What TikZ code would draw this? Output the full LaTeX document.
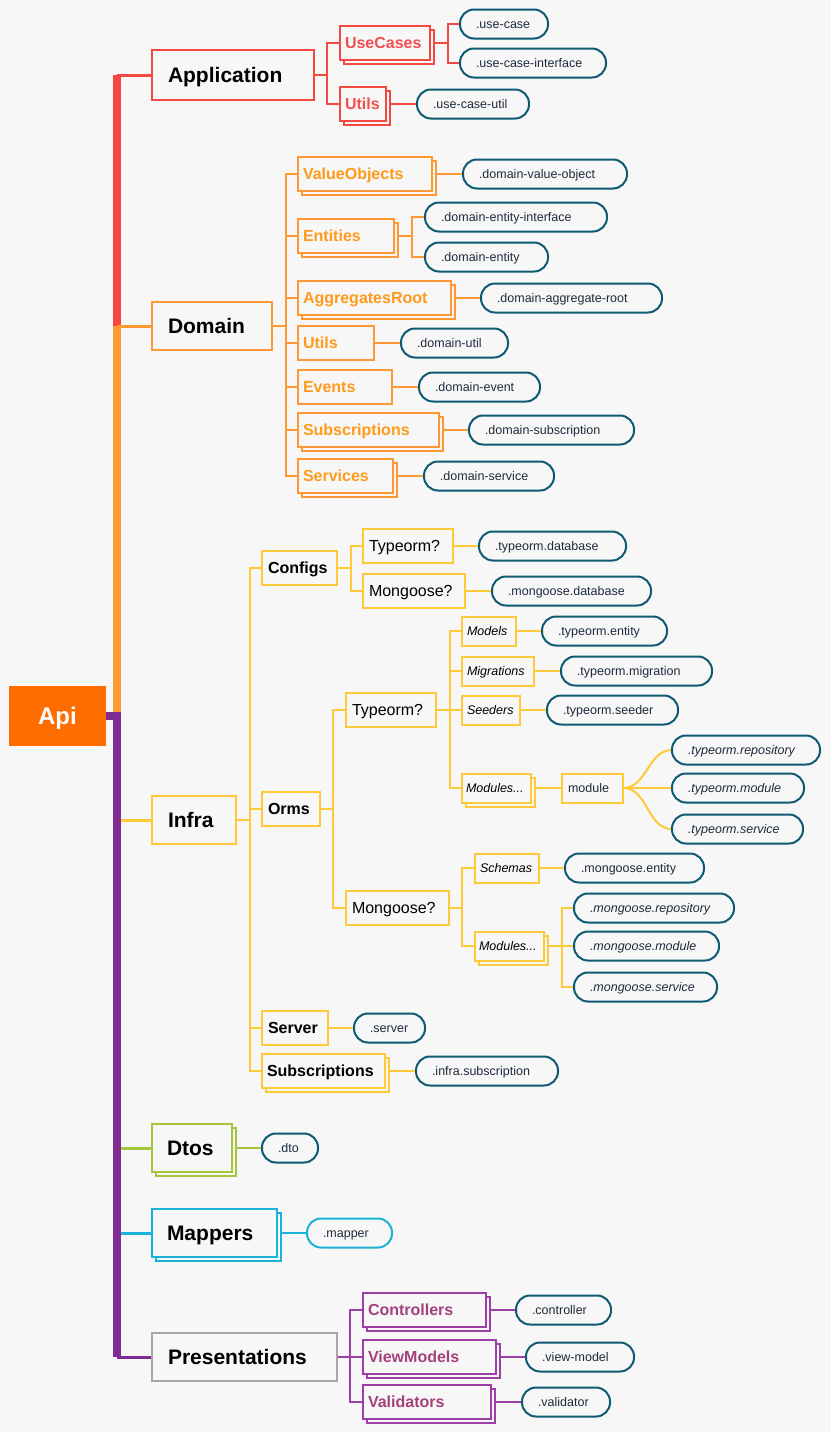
\documentclass[tikz,border=0pt]{standalone}
\usepackage{fontspec}
\setmainfont{Liberation Sans}
\usetikzlibrary{shadows}

\definecolor{paper}{HTML}{F7F7F7}
\definecolor{apiorange}{HTML}{FF6D00}
\definecolor{appred}{HTML}{F44840}
\definecolor{apptext}{HTML}{F25050}
\definecolor{domorange}{HTML}{FF9933}
\definecolor{domtext}{HTML}{FF9A1A}
\definecolor{infrayellow}{HTML}{FFCA3A}
\definecolor{dtogreen}{HTML}{A5C63B}
\definecolor{mapcyan}{HTML}{1AB2D6}
\definecolor{prespurple}{HTML}{802B91}
\definecolor{presline}{HTML}{9E3FA8}
\definecolor{prestext}{HTML}{A3417D}
\definecolor{presgray}{HTML}{A6A6A6}
\definecolor{filerim}{HTML}{0F5A73}
\definecolor{fileink}{HTML}{1E2B3B}

\pgfdeclarelayer{back}
\pgfdeclarelayer{wires}
\pgfsetlayers{back,wires,main}

\hyphenpenalty=10000
\exhyphenpenalty=10000

\tikzset{
  box/.style={draw, line width=2pt, fill=paper, anchor=north west, align=left, inner ysep=2pt, outer sep=0pt, text depth=0pt},
  topbox/.style={box, inner xsep=16pt, text height=15pt, font=\fontsize{21}{25}\selectfont\bfseries},
  subbox/.style={box, inner xsep=5pt, text height=11.5pt, minimum height=34pt, font=\fontsize{16}{19}\selectfont\bfseries},
  plainbox/.style={box, inner xsep=6pt, text height=11.5pt, minimum height=34pt, font=\fontsize{16}{19}\selectfont},
  tinybox/.style={box, inner xsep=5pt, text height=9pt, minimum height=29pt, font=\fontsize{12.5}{15}\selectfont\itshape},
  file/.style={box, draw=filerim, rounded corners=14pt, inner xsep=16pt, text height=9pt, minimum height=29pt, text=fileink, font=\fontsize{12.5}{15}\selectfont},
  ifile/.style={file, font=\fontsize{12.5}{15}\selectfont\itshape},
  stacked/.style={copy shadow={shadow xshift=4pt, shadow yshift=-4pt, draw=#1, fill=paper, line width=2pt}},
  wire/.style={line width=2pt},
  trunk/.style={line width=8pt},
  branch/.style={line width=3pt},
}

\begin{document}
\begin{tikzpicture}[x=1pt,y=-1pt]
	%%%%% START %%%%%
	\begin{pgfonlayer}{back}
		\fill[paper] (0,0) rectangle (831,1432);
	\end{pgfonlayer}
	
	\node[anchor=north west, outer sep=0pt, fill=apiorange, text=white, minimum width=97pt, minimum height=60pt, text height=17.3pt, text depth=0pt, font=\fontsize{24}{28}\selectfont\bfseries] (api) at (9,686) {Api};
	
	% application
	\node[topbox, draw=appred, minimum height=50pt, text width=130pt] (app) at (152,50) {Application};
	\node[subbox, draw=appred, text=apptext, stacked=appred, text width=80pt] (usecases) at (340,26) {UseCases};
	\node[subbox, draw=appred, text=apptext, stacked=appred, text width=36pt] (apputils) at (340,87) {Utils};
	\node[file, text width=56pt] (fusecase) at (460,9.5) {.use-case};
	\node[file, text width=114pt] (fusecaseiface) at (460,48.5) {.use-case-interface};
	\node[file, text width=80pt] (fusecaseutil) at (417,89.5) {.use-case-util};
	
	% domain
	\node[topbox, draw=domorange, minimum height=48pt, text width=88pt] (dom) at (152,302) {Domain};
	\node[subbox, draw=domorange, text=domtext, stacked=domorange, text width=124pt] (valueobjects) at (298,157) {ValueObjects};
	\node[subbox, draw=domorange, text=domtext, stacked=domorange, text width=86pt] (entities) at (298,219) {Entities};
	\node[subbox, draw=domorange, text=domtext, stacked=domorange, text width=143pt] (aggregates) at (298,281) {AggregatesRoot};
	\node[subbox, draw=domorange, text=domtext, text width=66pt] (domutils) at (298,326) {Utils};
	\node[subbox, draw=domorange, text=domtext, text width=84pt] (events) at (298,370) {Events};
	\node[subbox, draw=domorange, text=domtext, stacked=domorange, text width=131pt] (domsubs) at (298,413) {Subscriptions};
	\node[subbox, draw=domorange, text=domtext, stacked=domorange, text width=85pt] (services) at (298,459) {Services};
	\node[file, text width=132pt] (fvalueobject) at (463,159.5) {.domain-value-object};
	\node[file, text width=150pt] (fentityiface) at (425,202.5) {.domain-entity-interface};
	\node[file, text width=91pt] (fentity) at (425,242.5) {.domain-entity};
	\node[file, text width=149pt] (faggregate) at (481,283.5) {.domain-aggregate-root};
	\node[file, text width=75pt] (fdomutil) at (401,328.5) {.domain-util};
	\node[file, text width=89pt] (fevent) at (419,372.5) {.domain-event};
	\node[file, text width=133pt] (fdomsub) at (469,415.5) {.domain-subscription};
	\node[file, text width=98pt] (fservice) at (424,461.5) {.domain-service};
	
	% infra
	\node[topbox, draw=infrayellow, minimum height=48pt, text width=52pt] (infra) at (152,796) {Infra};
	\node[subbox, draw=infrayellow, inner xsep=6pt, text width=63pt] (configs) at (262,551) {Configs};
	\node[plainbox, draw=infrayellow, text width=78pt] (cfgtypeorm) at (363,529) {Typeorm?};
	\node[plainbox, draw=infrayellow, text width=90pt] (cfgmongoose) at (363,574) {Mongoose?};
	\node[file, text width=115pt] (ftdb) at (479,531.5) {.typeorm.database};
	\node[file, text width=127pt] (fmdb) at (492,576.5) {.mongoose.database};
	
	\node[subbox, draw=infrayellow, inner xsep=6pt, text width=46pt] (orms) at (262,792) {Orms};
	\node[plainbox, draw=infrayellow, text width=78pt] (ormtypeorm) at (346,693) {Typeorm?};
	\node[tinybox, draw=infrayellow, text width=44pt] (models) at (462,616.5) {Models};
	\node[tinybox, draw=infrayellow, text width=62pt] (migrations) at (462,656.5) {Migrations};
	\node[tinybox, draw=infrayellow, text width=48pt] (seeders) at (462,695.5) {Seeders};
	\node[tinybox, draw=infrayellow, stacked=infrayellow, inner xsep=4pt, text width=61pt] (tmodules) at (462,773.5) {Modules...};
	\node[tinybox, draw=infrayellow, font=\fontsize{12.5}{15}\selectfont, text=fileink, inner xsep=6pt, text width=49pt] (module) at (562,773.5) {module};
	\node[file, text width=93pt] (ftentity) at (542,616.5) {.typeorm.entity};
	\node[file, text width=119pt] (ftmigration) at (561,656.5) {.typeorm.migration};
	\node[file, text width=99pt] (ftseeder) at (547,695.5) {.typeorm.seeder};
	\node[ifile, text width=116pt] (ftrepo) at (672,735.5) {.typeorm.repository};
	\node[ifile, text width=100pt] (ftmodule) at (672,773.5) {.typeorm.module};
	\node[ifile, text width=99pt] (ftservice) at (672,814.5) {.typeorm.service};
	
	\node[plainbox, draw=infrayellow, text width=91pt] (ormmongoose) at (346,891) {Mongoose?};
	\node[tinybox, draw=infrayellow, text width=54pt] (schemas) at (475,853.5) {Schemas};
	\node[tinybox, draw=infrayellow, stacked=infrayellow, inner xsep=4pt, text width=61pt] (mmodules) at (475,931.5) {Modules...};
	\node[file, text width=107pt] (fmentity) at (565,853.5) {.mongoose.entity};
	\node[ifile, text width=128pt] (fmrepo) at (574,893.5) {.mongoose.repository};
	\node[ifile, text width=113pt] (fmmodule) at (574,931.5) {.mongoose.module};
	\node[ifile, text width=111pt] (fmservice) at (574,972.5) {.mongoose.service};
	
	\node[subbox, draw=infrayellow, inner xsep=6pt, text width=54pt] (server) at (262,1011) {Server};
	\node[subbox, draw=infrayellow, stacked=infrayellow, text width=113pt] (infrasubs) at (262,1054) {Subscriptions};
	\node[file, text width=39pt] (fserver) at (354,1013.5) {.server};
	\node[file, text width=110pt] (finfrasub) at (416,1056.5) {.infra.subscription};
	
	% dtos, mappers
	\node[topbox, draw=dtogreen, stacked=dtogreen, inner xsep=15pt, minimum height=48pt, text width=50pt] (dtos) at (152,1124) {Dtos};
	\node[file, text width=24pt] (fdto) at (262,1133.5) {.dto};
	\node[topbox, draw=mapcyan, stacked=mapcyan, inner xsep=15pt, minimum height=48pt, text width=95pt] (mappers) at (152,1209) {Mappers};
	\node[file, draw=mapcyan, text width=53pt] (fmapper) at (307,1218.5) {.mapper};
	
	% presentations
	\node[topbox, draw=presgray, minimum height=48pt, text width=153pt] (pres) at (152,1333) {Presentations};
	\node[subbox, draw=presline, text=prestext, stacked=presline, text width=113pt] (controllers) at (363,1293) {Controllers};
	\node[subbox, draw=presline, text=prestext, stacked=presline, text width=123pt] (viewmodels) at (363,1340) {ViewModels};
	\node[subbox, draw=presline, text=prestext, stacked=presline, text width=118pt] (validators) at (363,1385) {Validators};
	\node[file, text width=63pt] (fcontroller) at (516,1295.5) {.controller};
	\node[file, text width=76pt] (fviewmodel) at (526,1342.5) {.view-model};
	\node[file, text width=56pt] (fvalidator) at (522,1387.5) {.validator};
	
	\begin{pgfonlayer}{wires}
		% trunk
		\coordinate (hub) at (117,716);
		\draw[trunk, appred] (api.east) -- (hub) -- (hub |- app.west);
		\draw[branch, appred] (hub |- app.west) -- (app.west);
		\draw[trunk, domorange] (hub) -- (hub |- dom.west);
		\draw[branch, domorange] (hub |- dom.west) -- (dom.west);
		\draw[trunk, infrayellow] (hub) -- (hub |- infra.west);
		\draw[branch, infrayellow] (hub |- infra.west) -- (infra.west);
		\draw[branch, dtogreen] (hub |- dtos.west) -- (dtos.west);
		\draw[branch, mapcyan] (hub |- mappers.west) -- (mappers.west);
		\draw[trunk, prespurple] (api.east) -- (hub) -- (hub |- pres.west);
		\draw[branch, prespurple] (hub |- pres.west) -- (pres.west);
		
		% application
		\coordinate (appfork) at (327,75);
		\coordinate (ucfork) at (448,43);
		\draw[wire, appred] (app.east) -- (appfork) |- (usecases.west) (appfork) |- (apputils.west);
		\draw[wire, appred] (usecases.east) -- (ucfork) |- (fusecase.west) (ucfork) |- (fusecaseiface.west);
		\draw[wire, appred] (apputils.east) -- (fusecaseutil.west);
		
		% domain
		\coordinate (domfork) at (286,326);
		\coordinate (entfork) at (412,236);
		\draw[wire, domorange] (dom.east) -- (domfork) |- (valueobjects.west) (domfork) |- (entities.west)
			(domfork) |- (aggregates.west) (domfork) |- (domutils.west) (domfork) |- (events.west)
			(domfork) |- (domsubs.west) (domfork) |- (services.west);
		\draw[wire, domorange] (valueobjects.east) -- (fvalueobject.west);
		\draw[wire, domorange] (entities.east) -- (entfork) |- (fentityiface.west) (entfork) |- (fentity.west);
		\draw[wire, domorange] (aggregates.east) -- (faggregate.west);
		\draw[wire, domorange] (domutils.east) -- (fdomutil.west);
		\draw[wire, domorange] (events.east) -- (fevent.west);
		\draw[wire, domorange] (domsubs.east) -- (fdomsub.west);
		\draw[wire, domorange] (services.east) -- (fservice.west);
		
		% infra
		\coordinate (infrafork) at (250,820);
		\coordinate (cfgfork) at (351,568);
		\coordinate (ormfork) at (333,809);
		\coordinate (tormfork) at (450,710);
		\coordinate (mormfork) at (462,908);
		\coordinate (mmodfork) at (562,946);
		\draw[wire, infrayellow] (infra.east) -- (infrafork) |- (configs.west) (infrafork) |- (orms.west)
			(infrafork) |- (server.west) (infrafork) |- (infrasubs.west);
		\draw[wire, infrayellow] (configs.east) -- (cfgfork) |- (cfgtypeorm.west) (cfgfork) |- (cfgmongoose.west);
		\draw[wire, infrayellow] (cfgtypeorm.east) -- (ftdb.west);
		\draw[wire, infrayellow] (cfgmongoose.east) -- (fmdb.west);
		\draw[wire, infrayellow] (orms.east) -- (ormfork) |- (ormtypeorm.west) (ormfork) |- (ormmongoose.west);
		\draw[wire, infrayellow] (ormtypeorm.east) -- (tormfork) |- (models.west) (tormfork) |- (migrations.west)
			(tormfork) |- (seeders.west) (tormfork) |- (tmodules.west);
		\draw[wire, infrayellow] (models.east) -- (ftentity.west);
		\draw[wire, infrayellow] (migrations.east) -- (ftmigration.west);
		\draw[wire, infrayellow] (seeders.east) -- (ftseeder.west);
		\draw[wire, infrayellow] (tmodules.east) -- (module.west);
		\draw[wire, infrayellow] (module.east) to[out=0, in=180] (ftrepo.west);
		\draw[wire, infrayellow] (module.east) -- (ftmodule.west);
		\draw[wire, infrayellow] (module.east) to[out=0, in=180] (ftservice.west);
		\draw[wire, infrayellow] (ormmongoose.east) -- (mormfork) |- (schemas.west) (mormfork) |- (mmodules.west);
		\draw[wire, infrayellow] (schemas.east) -- (fmentity.west);
		\draw[wire, infrayellow] (mmodules.east) -- (mmodfork) |- (fmrepo.west) (mmodfork) |- (fmmodule.west) (mmodfork) |- (fmservice.west);
		\draw[wire, infrayellow] (server.east) -- (fserver.west);
		\draw[wire, infrayellow] (infrasubs.east) -- (finfrasub.west);
		
		% dtos, mappers
		\draw[wire, dtogreen] (dtos.east) -- (fdto.west);
		\draw[wire, mapcyan] (mappers.east) -- (fmapper.west);
		
		% presentations
		\coordinate (presfork) at (350,1357);
		\draw[wire, presline] (pres.east) -- (presfork) |- (controllers.west) (presfork) |- (viewmodels.west) (presfork) |- (validators.west);
		\draw[wire, presline] (controllers.east) -- (fcontroller.west);
		\draw[wire, presline] (viewmodels.east) -- (fviewmodel.west);
		\draw[wire, presline] (validators.east) -- (fvalidator.west);
	\end{pgfonlayer}
	%%%%% END %%%%%
\end{tikzpicture}
\end{document}
